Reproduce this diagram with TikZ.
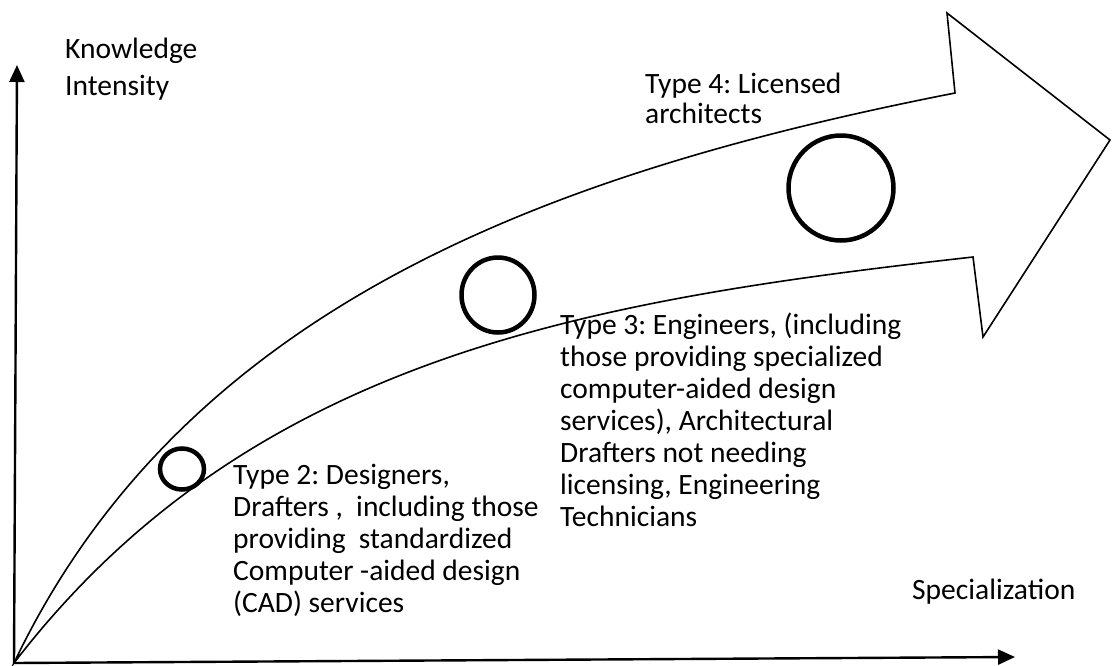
\documentclass[tikz,border=0pt]{standalone}
\usepackage{fontspec}
\setmainfont{Carlito}
\usetikzlibrary{arrows.meta,shapes.geometric}
\frenchspacing

\begin{document}
\begin{tikzpicture}[x=1pt,y=-1pt,
  axis/.style={line width=2.4pt, -{Triangle[length=17pt,width=15pt]}},
  outline/.style={line width=1.6pt, line join=miter},
  marker/.style={draw, ellipse, line width=4.5pt, inner sep=0pt},
  lbl/.style={inner sep=0pt, anchor=base west, align=left,
              font=\fontsize{29.5}{32}\selectfont}]
  \useasboundingbox (0,0) rectangle (1112,665);

  % axes
  \coordinate (O) at (14,663);
  \coordinate (ytip) at (17,65);
  \coordinate (xtip) at (1015,657);
  \draw[axis] (O) -- (ytip);
  \draw[axis] (O) -- (xtip);

  % curved block arrow
  \coordinate (upEnd) at (955,93);
  \coordinate (barbUp) at (947,13);
  \coordinate (tip) at (1110,140);
  \coordinate (barbLow) at (983,337);
  \coordinate (lowEnd) at (973,257);
  \draw[outline] (O) .. controls (186,302) and (558,171) .. (upEnd)
    -- (barbUp) -- (tip) -- (barbLow) -- (lowEnd)
    .. controls (590,300) and (250,356) .. (O) -- cycle;

  % stage markers
  \node[marker, minimum width=44pt, minimum height=41pt] (c2) at (182,469) {};
  \node[marker, minimum width=73pt, minimum height=75pt] (c3) at (498,295) {};
  \node[marker, minimum width=105pt, minimum height=105pt] (c4) at (841,188) {};

  % labels (anchored at the baseline of their last line)
  \node[lbl, font=\fontsize{29.5}{37}\selectfont] (ylab) at (65,95) {Knowledge\\Intensity};
  \node[lbl] (xlab) at (912,599) {Specialization};
  \node[lbl, font=\fontsize{29.5}{30.5}\selectfont] (t4) at (645,123.5) {Type 4: Licensed\\architects};
  \node[lbl] (t3) at (560,526) {Type 3: Engineers, (including\\those providing specialized\\computer-aided design\\services), Architectural\\Drafters not needing\\licensing, Engineering\\Technicians};
  \node[lbl] (t2) at (233,612) {Type 2: Designers,\\Drafters ,\ \ including those\\providing\ \ standardized\\Computer -aided design\\(CAD) services};
\end{tikzpicture}
\end{document}
